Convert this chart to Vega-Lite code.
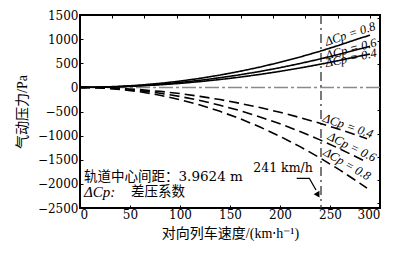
{
  "$schema": "https://vega.github.io/schema/vega-lite/v6.json",
  "width": 300,
  "height": 193,
  "autosize": {"type": "none"},
  "padding": {"left": 80, "top": 15, "right": 20, "bottom": 48},
  "background": "white",
  "config": {
    "view": {"stroke": "black", "strokeWidth": 2},
    "axis": {
      "labelFont": "DejaVu Serif",
      "labelFontSize": 12,
      "labelColor": "black",
      "tickColor": "black",
      "domain": false,
      "grid": false,
      "titleColor": "black",
      "titleFontWeight": "normal"
    }
  },
  "datasets": {
    "curves": [
      {"v": 0, "p": 0, "series": "p08", "kind": "positive"},
      {"v": 20, "p": 5, "series": "p08", "kind": "positive"},
      {"v": 40, "p": 21, "series": "p08", "kind": "positive"},
      {"v": 60, "p": 47, "series": "p08", "kind": "positive"},
      {"v": 80, "p": 83, "series": "p08", "kind": "positive"},
      {"v": 100, "p": 130, "series": "p08", "kind": "positive"},
      {"v": 120, "p": 187, "series": "p08", "kind": "positive"},
      {"v": 140, "p": 255, "series": "p08", "kind": "positive"},
      {"v": 160, "p": 333, "series": "p08", "kind": "positive"},
      {"v": 180, "p": 421, "series": "p08", "kind": "positive"},
      {"v": 200, "p": 520, "series": "p08", "kind": "positive"},
      {"v": 220, "p": 629, "series": "p08", "kind": "positive"},
      {"v": 240, "p": 749, "series": "p08", "kind": "positive"},
      {"v": 260, "p": 879, "series": "p08", "kind": "positive"},
      {"v": 280, "p": 1019, "series": "p08", "kind": "positive"},
      {"v": 290, "p": 1080, "series": "p08", "kind": "positive"},
      {"v": 0, "p": 0, "series": "p06", "kind": "positive"},
      {"v": 20, "p": 4, "series": "p06", "kind": "positive"},
      {"v": 40, "p": 16, "series": "p06", "kind": "positive"},
      {"v": 60, "p": 37, "series": "p06", "kind": "positive"},
      {"v": 80, "p": 65, "series": "p06", "kind": "positive"},
      {"v": 100, "p": 102, "series": "p06", "kind": "positive"},
      {"v": 120, "p": 147, "series": "p06", "kind": "positive"},
      {"v": 140, "p": 200, "series": "p06", "kind": "positive"},
      {"v": 160, "p": 261, "series": "p06", "kind": "positive"},
      {"v": 180, "p": 330, "series": "p06", "kind": "positive"},
      {"v": 200, "p": 408, "series": "p06", "kind": "positive"},
      {"v": 220, "p": 494, "series": "p06", "kind": "positive"},
      {"v": 240, "p": 588, "series": "p06", "kind": "positive"},
      {"v": 260, "p": 690, "series": "p06", "kind": "positive"},
      {"v": 280, "p": 800, "series": "p06", "kind": "positive"},
      {"v": 290, "p": 850, "series": "p06", "kind": "positive"},
      {"v": 0, "p": 0, "series": "p04", "kind": "positive"},
      {"v": 20, "p": 3, "series": "p04", "kind": "positive"},
      {"v": 40, "p": 13, "series": "p04", "kind": "positive"},
      {"v": 60, "p": 30, "series": "p04", "kind": "positive"},
      {"v": 80, "p": 53, "series": "p04", "kind": "positive"},
      {"v": 100, "p": 83, "series": "p04", "kind": "positive"},
      {"v": 120, "p": 120, "series": "p04", "kind": "positive"},
      {"v": 140, "p": 163, "series": "p04", "kind": "positive"},
      {"v": 160, "p": 212, "series": "p04", "kind": "positive"},
      {"v": 180, "p": 269, "series": "p04", "kind": "positive"},
      {"v": 200, "p": 332, "series": "p04", "kind": "positive"},
      {"v": 220, "p": 402, "series": "p04", "kind": "positive"},
      {"v": 240, "p": 478, "series": "p04", "kind": "positive"},
      {"v": 260, "p": 561, "series": "p04", "kind": "positive"},
      {"v": 280, "p": 651, "series": "p04", "kind": "positive"},
      {"v": 290, "p": 690, "series": "p04", "kind": "positive"},
      {"v": 0, "p": 0, "series": "n04", "kind": "negative"},
      {"v": 20, "p": -5, "series": "n04", "kind": "negative"},
      {"v": 40, "p": -21, "series": "n04", "kind": "negative"},
      {"v": 60, "p": -47, "series": "n04", "kind": "negative"},
      {"v": 80, "p": -83, "series": "n04", "kind": "negative"},
      {"v": 100, "p": -129, "series": "n04", "kind": "negative"},
      {"v": 120, "p": -186, "series": "n04", "kind": "negative"},
      {"v": 140, "p": -253, "series": "n04", "kind": "negative"},
      {"v": 160, "p": -331, "series": "n04", "kind": "negative"},
      {"v": 180, "p": -419, "series": "n04", "kind": "negative"},
      {"v": 200, "p": -517, "series": "n04", "kind": "negative"},
      {"v": 220, "p": -626, "series": "n04", "kind": "negative"},
      {"v": 240, "p": -745, "series": "n04", "kind": "negative"},
      {"v": 260, "p": -874, "series": "n04", "kind": "negative"},
      {"v": 280, "p": -1014, "series": "n04", "kind": "negative"},
      {"v": 287, "p": -1065, "series": "n04", "kind": "negative"},
      {"v": 0, "p": 0, "series": "n06", "kind": "negative"},
      {"v": 20, "p": -8, "series": "n06", "kind": "negative"},
      {"v": 40, "p": -30, "series": "n06", "kind": "negative"},
      {"v": 60, "p": -68, "series": "n06", "kind": "negative"},
      {"v": 80, "p": -121, "series": "n06", "kind": "negative"},
      {"v": 100, "p": -189, "series": "n06", "kind": "negative"},
      {"v": 120, "p": -272, "series": "n06", "kind": "negative"},
      {"v": 140, "p": -370, "series": "n06", "kind": "negative"},
      {"v": 160, "p": -483, "series": "n06", "kind": "negative"},
      {"v": 180, "p": -612, "series": "n06", "kind": "negative"},
      {"v": 200, "p": -755, "series": "n06", "kind": "negative"},
      {"v": 220, "p": -914, "series": "n06", "kind": "negative"},
      {"v": 240, "p": -1088, "series": "n06", "kind": "negative"},
      {"v": 260, "p": -1276, "series": "n06", "kind": "negative"},
      {"v": 280, "p": -1480, "series": "n06", "kind": "negative"},
      {"v": 287, "p": -1555, "series": "n06", "kind": "negative"},
      {"v": 0, "p": 0, "series": "n08", "kind": "negative"},
      {"v": 20, "p": -10, "series": "n08", "kind": "negative"},
      {"v": 40, "p": -41, "series": "n08", "kind": "negative"},
      {"v": 60, "p": -91, "series": "n08", "kind": "negative"},
      {"v": 80, "p": -162, "series": "n08", "kind": "negative"},
      {"v": 100, "p": -254, "series": "n08", "kind": "negative"},
      {"v": 120, "p": -365, "series": "n08", "kind": "negative"},
      {"v": 140, "p": -497, "series": "n08", "kind": "negative"},
      {"v": 160, "p": -649, "series": "n08", "kind": "negative"},
      {"v": 180, "p": -822, "series": "n08", "kind": "negative"},
      {"v": 200, "p": -1015, "series": "n08", "kind": "negative"},
      {"v": 220, "p": -1228, "series": "n08", "kind": "negative"},
      {"v": 240, "p": -1461, "series": "n08", "kind": "negative"},
      {"v": 260, "p": -1715, "series": "n08", "kind": "negative"},
      {"v": 280, "p": -1989, "series": "n08", "kind": "negative"},
      {"v": 287, "p": -2090, "series": "n08", "kind": "negative"}
    ],
    "labels": [
      {"v": 270, "p": 1107, "label": "ΔCp = 0.8", "grp": "p08"},
      {"v": 271, "p": 796, "label": "ΔCp = 0.6", "grp": "p06"},
      {"v": 271, "p": 609, "label": "ΔCp = 0.4", "grp": "p04"},
      {"v": 268, "p": -800, "label": "ΔCp = 0.4", "grp": "n04"},
      {"v": 272, "p": -1235, "label": "ΔCp = 0.6", "grp": "n06"},
      {"v": 267, "p": -1588, "label": "ΔCp = 0.8", "grp": "n08"}
    ]
  },
  "resolve": {"axis": {"x": "independent", "y": "independent"}},
  "layer": [
    {
      "data": {"values": [{"p": 0}]},
      "mark": {"type": "rule", "color": "#8a8a8a", "strokeWidth": 1.5, "strokeDash": [14, 3, 3, 3]},
      "encoding": {
        "y": {"field": "p", "type": "quantitative",
          "axis": {"orient": "right", "values": [-2394, -1915.2, -1436.4, -957.6, -478.8, 0, 478.8, 957.6, 1436.4], "labels": false, "tickSize": -3, "title": null}}
      }
    },
    {
      "data": {"values": [{"v": 241}]},
      "mark": {"type": "rule", "color": "#333333", "strokeWidth": 1.3, "strokeDash": [9, 4, 2, 4]},
      "encoding": {
        "x": {"field": "v", "type": "quantitative",
          "axis": {"orient": "top", "values": [32.2, 64.4, 96.6, 128.7, 160.9, 193.1, 225.3, 257.5, 289.7], "labels": false, "tickSize": -3, "title": null}}
      }
    },
    {
      "data": {"name": "curves"},
      "mark": {"type": "line", "color": "black", "strokeWidth": 1.6},
      "encoding": {
        "x": {"field": "v", "type": "quantitative", "scale": {"domain": [0, 300], "nice": false},
          "axis": {"values": [0, 50, 100, 150, 200, 250, 300], "format": "d", "tickSize": -3, "labelPadding": 4,
            "labelFont": "DejaVu Serif", "labelFontSize": 12,
            "title": "对向列车速度/(km⋅h⁻¹)", "titleFont": "Liberation Serif, Noto Sans CJK SC", "titleFontSize": 14, "titlePadding": 6}},
        "y": {"field": "p", "type": "quantitative", "scale": {"domain": [-2500, 1500], "nice": false},
          "axis": {"values": [-2500, -2000, -1500, -1000, -500, 0, 500, 1000, 1500], "format": "d", "tickSize": -3, "labelPadding": 5,
            "labelFont": "DejaVu Serif", "labelFontSize": 12,
            "title": "气动压力/Pa", "titleFont": "Liberation Serif, Noto Sans CJK SC", "titleFontSize": 14, "titlePadding": 8}},
        "detail": {"field": "series"},
        "strokeDash": {"field": "kind", "type": "nominal", "scale": {"domain": ["positive", "negative"], "range": [[1, 0], [10, 5]]}, "legend": null}
      }
    },
    {
      "data": {"name": "labels"},
      "transform": [{"filter": "datum.grp === 'p08'"}],
      "mark": {"type": "text", "font": "Liberation Serif", "fontStyle": "italic", "fontSize": 12.5, "angle": 342, "color": "black"},
      "encoding": {"x": {"field": "v", "type": "quantitative", "axis": null}, "y": {"field": "p", "type": "quantitative", "axis": null}, "text": {"field": "label"}}
    },
    {
      "data": {"name": "labels"},
      "transform": [{"filter": "datum.grp === 'p06'"}],
      "mark": {"type": "text", "font": "Liberation Serif", "fontStyle": "italic", "fontSize": 12.5, "angle": 345, "color": "black"},
      "encoding": {"x": {"field": "v", "type": "quantitative", "axis": null}, "y": {"field": "p", "type": "quantitative", "axis": null}, "text": {"field": "label"}}
    },
    {
      "data": {"name": "labels"},
      "transform": [{"filter": "datum.grp === 'p04'"}],
      "mark": {"type": "text", "font": "Liberation Serif", "fontStyle": "italic", "fontSize": 12.5, "angle": 348, "color": "black"},
      "encoding": {"x": {"field": "v", "type": "quantitative", "axis": null}, "y": {"field": "p", "type": "quantitative", "axis": null}, "text": {"field": "label"}}
    },
    {
      "data": {"name": "labels"},
      "transform": [{"filter": "datum.grp === 'n04'"}],
      "mark": {"type": "text", "font": "Liberation Serif", "fontStyle": "italic", "fontSize": 12.5, "angle": 19, "color": "black"},
      "encoding": {"x": {"field": "v", "type": "quantitative", "axis": null}, "y": {"field": "p", "type": "quantitative", "axis": null}, "text": {"field": "label"}}
    },
    {
      "data": {"name": "labels"},
      "transform": [{"filter": "datum.grp === 'n06'"}],
      "mark": {"type": "text", "font": "Liberation Serif", "fontStyle": "italic", "fontSize": 12.5, "angle": 26, "color": "black"},
      "encoding": {"x": {"field": "v", "type": "quantitative", "axis": null}, "y": {"field": "p", "type": "quantitative", "axis": null}, "text": {"field": "label"}}
    },
    {
      "data": {"name": "labels"},
      "transform": [{"filter": "datum.grp === 'n08'"}],
      "mark": {"type": "text", "font": "Liberation Serif", "fontStyle": "italic", "fontSize": 12.5, "angle": 30, "color": "black"},
      "encoding": {"x": {"field": "v", "type": "quantitative", "axis": null}, "y": {"field": "p", "type": "quantitative", "axis": null}, "text": {"field": "label"}}
    },
    {
      "data": {"values": [{"v": 4, "p": -1850, "t": "轨道中心间距：3.9624 m"}, {"v": 51, "p": -2175, "t": "差压系数"}]},
      "mark": {"type": "text", "font": "DejaVu Serif, Noto Sans CJK SC", "fontSize": 13.5, "align": "left", "baseline": "middle", "color": "black"},
      "encoding": {"x": {"field": "v", "type": "quantitative", "axis": null}, "y": {"field": "p", "type": "quantitative", "axis": null}, "text": {"field": "t"}}
    },
    {
      "data": {"values": [{"v": 4, "p": -2175, "t": "ΔCp:"}]},
      "mark": {"type": "text", "font": "Liberation Serif", "fontStyle": "italic", "fontSize": 15, "align": "left", "baseline": "middle", "color": "black"},
      "encoding": {"x": {"field": "v", "type": "quantitative", "axis": null}, "y": {"field": "p", "type": "quantitative", "axis": null}, "text": {"field": "t"}}
    },
    {
      "data": {"values": [{"v": 203, "p": -1673, "t": "241 km/h"}]},
      "mark": {"type": "text", "font": "DejaVu Serif", "fontSize": 12.5, "align": "center", "baseline": "middle", "color": "black"},
      "encoding": {"x": {"field": "v", "type": "quantitative", "axis": null}, "y": {"field": "p", "type": "quantitative", "axis": null}, "text": {"field": "t"}}
    },
    {
      "data": {"values": [{"v": 216.7, "p": -1884, "o": 1}, {"v": 229.3, "p": -1884, "o": 2}, {"v": 236, "p": -2127, "o": 3}]},
      "mark": {"type": "line", "color": "black", "strokeWidth": 1.3},
      "encoding": {"x": {"field": "v", "type": "quantitative", "axis": null}, "y": {"field": "p", "type": "quantitative", "axis": null}, "order": {"field": "o"}}
    },
    {
      "data": {"values": [{"v": 238, "p": -2230}]},
      "mark": {"type": "point", "shape": "triangle-down", "filled": true, "color": "black", "size": 45, "angle": 330, "opacity": 1},
      "encoding": {"x": {"field": "v", "type": "quantitative", "axis": null}, "y": {"field": "p", "type": "quantitative", "axis": null}}
    }
  ]
}
